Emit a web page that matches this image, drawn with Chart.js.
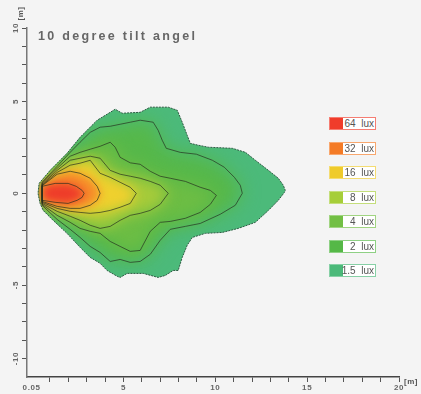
<!DOCTYPE html>
<html>
<head>
<meta charset="utf-8">
<script src="https://cdn.jsdelivr.net/npm/chart.js@4.4.1/dist/chart.umd.min.js"></script>
<style>
  body { margin: 0; background: #f4f4f4; }
  #wrap { position: relative; width: 421px; height: 394px; font-family: "Liberation Sans", Arial, sans-serif; }
  #chart { position: absolute; left: 0; top: 0; }
  .title { position: absolute; left: 38px; top: 29px; font-size: 12.5px; line-height: 14px; font-weight: bold; letter-spacing: 2.3px; color: #666; white-space: nowrap; }
  .unit { position: absolute; font-size: 8px; line-height: 9px; font-weight: bold; color: #555; letter-spacing: 0.5px; white-space: nowrap; }
  #unitY { left: 14px; top: 9px; transform: rotate(-90deg); }
  #unitX { left: 404px; top: 377px; }
  .item { position: absolute; left: 329px; width: 45px; height: 11px; border: 1px solid; background: #fff; }
  .item .sw { position: absolute; left: 0; top: 0; width: 13px; height: 11px; }
  .item .tx { position: absolute; right: 1px; top: 0; font-size: 10px; line-height: 11px; color: #555; white-space: pre; }
</style>
</head>
<body>
<div id="wrap">
  <canvas id="chart" width="421" height="394"></canvas>
  <div class="title">10 degree tilt angel</div>
  <div class="unit" id="unitY">[m]</div>
  <div class="unit" id="unitX">[m]</div>
  <div id="legend"></div>
</div>
<script>
(() => {
  'use strict';

  // isolux levels, inner to outer
  const levels = ['64', '32', '16', '8', '4', '2', '1.5'];
  const levelColors = ['#f03c2b', '#f47b26', '#efcb2b', '#a6ce39', '#72bf44', '#55b847', '#4bb979'];

  // isolines [x m, y m]
  const iso64 = [[0.57, 0.38], [1.28, 0.54], [1.99, 0.54], [2.43, 0.38], [2.75, 0.16], [2.86, 0], [2.75, -0.22],
    [2.48, -0.38], [1.99, -0.55], [1.28, -0.49], [0.57, -0.38]];
  const iso32 = [[0.57, 0.41], [1.39, 1.04], [2.10, 1.20], [2.64, 1.09], [3.19, 0.82], [3.57, 0.38], [3.73, 0],
    [3.57, -0.38], [3.19, -0.65], [2.64, -0.82], [2.10, -0.82], [1.39, -0.71], [0.57, -0.44]];
  const iso16 = [[0.57, 0.44], [1.39, 1.14], [2.10, 1.53], [2.64, 1.64], [3.19, 1.80], [3.73, 1.09], [4.28, 0.87],
    [4.82, 0.60], [5.37, 0.33], [5.70, 0], [5.37, -0.55], [4.82, -0.76], [4.28, -0.93], [3.73, -1.04],
    [3.19, -1.09], [2.64, -1.04], [2.10, -0.98], [1.39, -0.82], [0.57, -0.49]];
  const iso8 = [[0.57, 0.49], [1.39, 1.25], [2.10, 1.80], [2.64, 1.91], [3.19, 2.02], [3.73, 1.91], [4.28, 1.25],
    [4.82, 1.04], [5.37, 0.93], [5.91, 0.82], [6.46, 0.65], [7.00, 0.44], [7.44, 0], [7.00, -0.60],
    [6.46, -0.93], [5.91, -1.09], [5.37, -1.20], [4.82, -1.47], [4.28, -1.80], [3.73, -1.91], [3.19, -1.74],
    [2.64, -1.47], [2.10, -1.25], [1.39, -0.98], [0.57, -0.55]];
  const iso4 = [[0.57, 0.55], [1.39, 1.36], [2.10, 2.02], [2.64, 2.23], [3.19, 2.40], [3.73, 2.56], [4.28, 2.78],
    [4.55, 2.51], [4.82, 1.96], [5.37, 1.66], [5.91, 1.58], [6.46, 1.20], [7.00, 0.93], [7.55, 0.82],
    [8.37, 0.65], [9.18, 0.33], [9.73, 0.16], [10.06, -0.11], [9.73, -0.60], [9.18, -1.04], [8.37, -1.36],
    [7.55, -1.53], [7.00, -1.58], [6.46, -2.07], [5.91, -3.11], [5.37, -3.16], [4.82, -2.89], [4.28, -2.62],
    [3.73, -2.18], [3.19, -2.07], [2.64, -1.91], [2.10, -1.58], [1.39, -1.20], [0.57, -0.60]];
  const iso2 = [[0.57, 0.60], [1.39, 1.47], [2.10, 2.23], [2.64, 2.78], [3.19, 3.32], [3.73, 3.60], [4.28, 3.65],
    [4.82, 3.76], [5.37, 3.87], [5.91, 3.98], [6.62, 3.87], [6.89, 3.43], [7.11, 2.89], [7.33, 2.45],
    [8.09, 2.23], [8.97, 2.13], [9.84, 1.80], [10.49, 1.42], [11.04, 0.87], [11.36, 0.44], [11.47, 0],
    [11.09, -0.65], [10.27, -1.14], [9.18, -1.64], [8.37, -1.80], [7.55, -1.96], [7.00, -2.56], [6.46, -3.32],
    [5.91, -3.71], [5.37, -3.76], [4.82, -3.60], [4.28, -3.71], [3.73, -3.22], [3.19, -2.89], [2.64, -2.40],
    [2.10, -1.96], [1.39, -1.42], [0.57, -0.65]];
  const iso1_5 = [[0.41, 0.54], [1.01, 1.25], [1.93, 2.18], [2.64, 3.05], [3.57, 3.98], [4.28, 4.41], [4.55, 4.58],
    [4.93, 4.36], [5.91, 4.41], [6.46, 4.69], [7.44, 4.69], [7.93, 4.52], [8.20, 3.87], [8.47, 3.16],
    [8.64, 2.72], [9.07, 2.62], [9.62, 2.51], [10.93, 2.45], [11.64, 2.23], [12.18, 1.80], [12.89, 1.25],
    [13.43, 0.82], [13.70, 0.44], [13.81, 0.16], [13.76, 0.05], [13.43, -0.38], [12.89, -0.93], [12.18, -1.58],
    [11.25, -1.91], [10.38, -2.13], [9.46, -2.18], [8.75, -2.40], [8.47, -2.83], [8.20, -3.49], [7.98, -4.20],
    [7.71, -4.20], [7.28, -4.47], [6.89, -4.58], [6.08, -4.36], [5.20, -4.36], [4.82, -4.58], [4.66, -4.52],
    [4.11, -4.20], [3.73, -3.81], [3.19, -3.49], [2.64, -2.94], [1.93, -2.18], [1.17, -1.47], [0.63, -0.93],
    [0.46, -0.54], [0.35, 0]];

  // axis labels
  const xTickValues = [0, 5, 10, 15, 20];
  const xTickLabels = ['0.05', '5', '10', '15', '20'];
  const yTickValues = [9, 5, 0, -5, -9];
  const yTickLabels = ['10', '5', '0', '-5', '-10'];

  // drawn outer -> inner
  const isolines = [iso1_5, iso2, iso4, iso8, iso16, iso32, iso64];
  const bandColors = ['#4cba7a', '#56b84a', '#6cbd44', '#a6cb3a', '#efd02e', '#f68a2a', '#ee3c2a'];
  const blurPx = [0, 9, 8, 7, 6, 5, 4];

  // legend
  const legendEl = document.getElementById('legend');
  levels.forEach((lv, i) => {
    const item = document.createElement('div');
    item.className = 'item';
    item.style.top = (117 + i * 24.5) + 'px';
    item.style.borderColor = levelColors[i] + 'aa';
    const sw = document.createElement('div');
    sw.className = 'sw';
    sw.style.background = levelColors[i];
    const tx = document.createElement('div');
    tx.className = 'tx';
    tx.textContent = lv + '  lux';
    item.appendChild(sw);
    item.appendChild(tx);
    legendEl.appendChild(item);
  });

  // smooth isolux bands, clipped to the outer line
  const isoFill = {
    id: 'isoFill',
    beforeDraw(chart) {
      chart.ctx.letterSpacing = '0.6px';
    },
    beforeDatasetsDraw(chart) {
      const ctx = chart.ctx;
      const a = chart.chartArea;
      const tracePath = pts => {
        ctx.beginPath();
        pts.forEach((p, k) => (k ? ctx.lineTo(p.x, p.y) : ctx.moveTo(p.x, p.y)));
        ctx.closePath();
      };
      const outerPts = chart.getDatasetMeta(0).data;
      ctx.save();
      ctx.beginPath();
      ctx.rect(a.left, a.top, a.right - a.left, a.bottom - a.top);
      ctx.clip();
      chart.data.datasets.forEach((ds, i) => {
        const pts = chart.getDatasetMeta(i).data;
        ctx.save();
        if (i > 0) {
          tracePath(outerPts);
          ctx.clip();
          ctx.filter = 'blur(' + ds.blur + 'px)';
        }
        tracePath(pts);
        ctx.fillStyle = ds.bandColor;
        ctx.fill();
        ctx.restore();
      });
      ctx.restore();
    }
  };

  const datasets = isolines.map((pts, i) => ({
    data: pts.concat([pts[0]]).map(([x, y]) => ({ x, y })),
    showLine: true,
    fill: false,
    tension: 0,
    pointRadius: 0,
    borderColor: i === 0 ? '#2f5a44' : 'rgba(35,45,30,0.85)',
    borderWidth: i === 0 ? 1 : 0.8,
    borderDash: i === 0 ? [2, 1] : [],
    bandColor: bandColors[i],
    blur: blurPx[i]
  }));

  const tickFont = { family: '"Liberation Sans", Arial, sans-serif', size: 8, weight: 'bold' };
  const intRange = (lo, hi) => Array.from({ length: hi - lo + 1 }, (_, k) => ({ value: lo + k }));

  new Chart(document.getElementById('chart'), {
    type: 'scatter',
    data: { datasets },
    options: {
      responsive: false,
      animation: false,
      devicePixelRatio: 1,
      layout: { padding: { top: 28, right: 22, left: 0, bottom: 0 } },
      plugins: { legend: { display: false }, tooltip: { enabled: false } },
      scales: {
        x: {
          type: 'linear',
          min: -0.25,
          max: 20,
          afterBuildTicks: s => { s.ticks = intRange(0, 20); },
          afterFit: s => { s.height = 17; },
          ticks: {
            autoSkip: false,
            minRotation: 0,
            maxRotation: 0,
            padding: 1,
            font: tickFont,
            color: '#666',
            callback: v => {
              const k = xTickValues.indexOf(v);
              return k >= 0 ? xTickLabels[k] : '';
            }
          },
          grid: {
            drawOnChartArea: false,
            tickLength: 5,
            tickWidth: 1,
            tickColor: c => (c.tick && c.tick.value === 0 ? 'rgba(0,0,0,0)' : '#555')
          },
          border: { color: '#444', width: 1.5 }
        },
        y: {
          type: 'linear',
          min: -10,
          max: 9,
          afterBuildTicks: s => { s.ticks = intRange(-9, 9); },
          afterFit: s => { s.width = 27; },
          ticks: {
            autoSkip: false,
            minRotation: 90,
            maxRotation: 90,
            crossAlign: 'center',
            padding: 0,
            font: tickFont,
            color: '#666',
            callback: v => {
              const k = yTickValues.indexOf(v);
              return k >= 0 ? yTickLabels[k] : '';
            }
          },
          grid: {
            drawOnChartArea: false,
            tickLength: 5,
            tickWidth: 1,
            tickColor: '#555'
          },
          border: { color: '#777', width: 1.5 }
        }
      }
    },
    plugins: [isoFill]
  });
})();
</script>
</body>
</html>
